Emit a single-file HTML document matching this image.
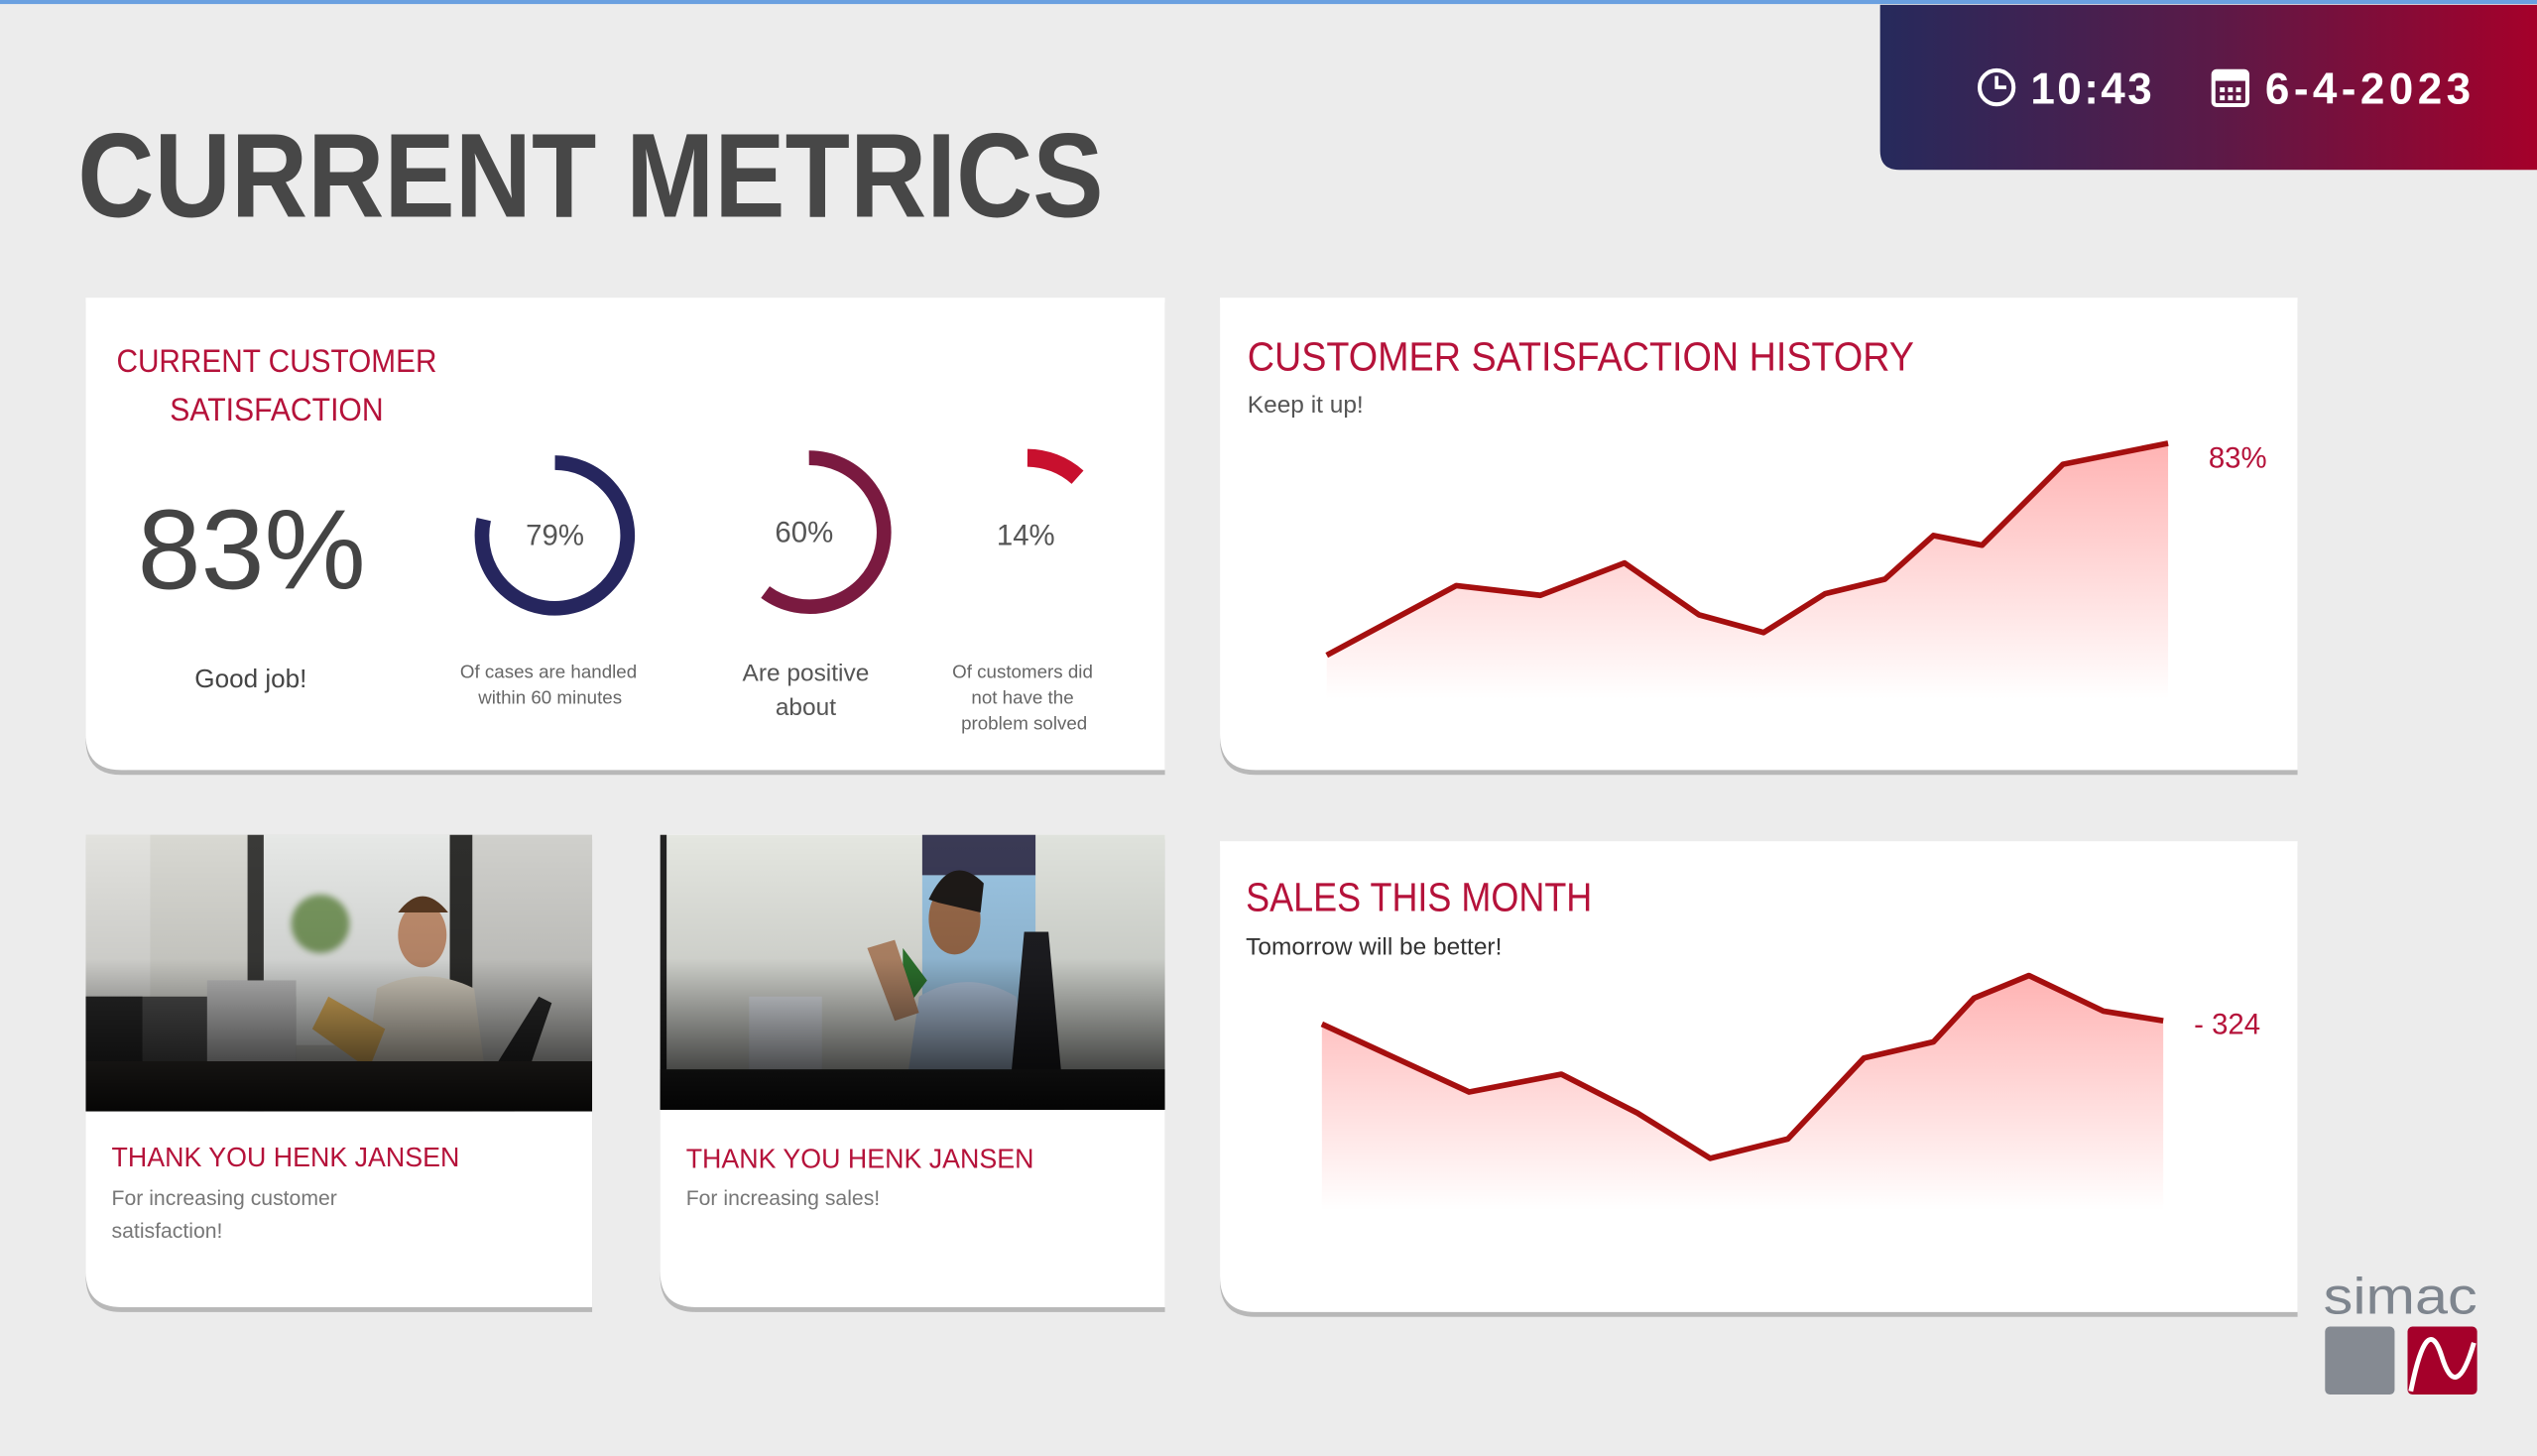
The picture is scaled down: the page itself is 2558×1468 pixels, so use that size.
<!DOCTYPE html>
<html><head><meta charset="utf-8"><style>
html,body{margin:0;padding:0;background:#ececec;overflow:hidden}
svg{display:block}
text{font-family:"Liberation Sans",sans-serif}
</style></head><body>
<svg width="2558" height="1468" viewBox="0 0 1568 900" preserveAspectRatio="none" xmlns="http://www.w3.org/2000/svg">
<defs>
<linearGradient id="hdr" x1="0" y1="0" x2="1" y2="0"><stop offset="0" stop-color="#262a5c"/><stop offset="0.5" stop-color="#5a1a48"/><stop offset="1" stop-color="#a5002a"/></linearGradient>
<linearGradient id="fillr" x1="0" y1="0" x2="0" y2="1"><stop offset="0" stop-color="#ffb3b3"/><stop offset="1" stop-color="#ffffff"/></linearGradient>
<linearGradient id="dark" x1="0" y1="0" x2="0" y2="1"><stop offset="0" stop-color="#000" stop-opacity="0"/><stop offset="0.45" stop-color="#000" stop-opacity="0.1"/><stop offset="1" stop-color="#000" stop-opacity="0.9"/></linearGradient>
<filter id="bl"><feGaussianBlur stdDeviation="2"/></filter>
</defs>
<rect width="1568" height="900" fill="#ececec"/>
<rect width="1568" height="2.5" fill="#6aa0e0"/>
<!-- header -->
<path d="M1162 3 H1568 V105 H1174 Q1162 105 1162 93 Z" fill="url(#hdr)"/>
<circle cx="1234" cy="54" r="10.5" fill="none" stroke="#fff" stroke-width="2.5"/>
<path d="M1234 47 V54 H1240" fill="none" stroke="#fff" stroke-width="2.2"/>
<text x="1255" y="64" font-size="27" font-weight="bold" fill="#fff" textLength="75">10:43</text>
<rect x="1368" y="44" width="21" height="21" rx="2" fill="none" stroke="#fff" stroke-width="2.5"/>
<rect x="1368" y="44" width="21" height="6" fill="#fff"/>
<g fill="#fff"><rect x="1372" y="54" width="3" height="3"/><rect x="1377" y="54" width="3" height="3"/><rect x="1382" y="54" width="3" height="3"/><rect x="1372" y="59" width="3" height="3"/><rect x="1377" y="59" width="3" height="3"/><rect x="1382" y="59" width="3" height="3"/></g>
<text x="1400" y="64" font-size="27" font-weight="bold" fill="#fff" textLength="127">6-4-2023</text>
<text x="48" y="134" font-size="74" font-weight="bold" fill="#474747" textLength="634" lengthAdjust="spacingAndGlyphs">CURRENT METRICS</text>

<!-- cards -->
<g>
<path d="M53 187 H720 V479 H75 Q53 479 53 457 Z" fill="#b8b8b8"/>
<path d="M53 184 H720 V476 H75 Q53 476 53 454 Z" fill="#fff"/>
<path d="M754 187 H1420 V479 H776 Q754 479 754 457 Z" fill="#b8b8b8"/>
<path d="M754 184 H1420 V476 H776 Q754 476 754 454 Z" fill="#fff"/>
<path d="M53 519 H366 V811 H75 Q53 811 53 789 Z" fill="#b8b8b8"/>
<path d="M53 516 H366 V808 H75 Q53 808 53 786 Z" fill="#fff"/>
<path d="M408 519 H720 V811 H430 Q408 811 408 789 Z" fill="#b8b8b8"/>
<path d="M408 516 H720 V808 H430 Q408 808 408 786 Z" fill="#fff"/>
<path d="M754 523 H1420 V814 H776 Q754 814 754 792 Z" fill="#b8b8b8"/>
<path d="M754 520 H1420 V811 H776 Q754 811 754 789 Z" fill="#fff"/>
</g>

<!-- card 1 -->
<text x="72" y="230" font-size="20" fill="#b5123a" textLength="198" lengthAdjust="spacingAndGlyphs">CURRENT CUSTOMER</text>
<text x="105" y="260" font-size="20" fill="#b5123a" textLength="132" lengthAdjust="spacingAndGlyphs">SATISFACTION</text>
<text x="85" y="364" font-size="70" fill="#444" textLength="141" lengthAdjust="spacingAndGlyphs">83%</text>
<text x="155" y="425" font-size="16" fill="#444" text-anchor="middle">Good job!</text>
<!-- donut 1: 79% -->
<path d="M343 286 A45 45 0 1 1 299 321" fill="none" stroke="#26265e" stroke-width="9"/>
<text x="343" y="337" font-size="18" fill="#555" text-anchor="middle">79%</text>
<!-- donut 2: 60% -->
<path d="M500 283 A46 46 0 1 1 473 366" fill="none" stroke="#7a1a40" stroke-width="9"/>
<text x="497" y="335" font-size="18" fill="#555" text-anchor="middle">60%</text>
<!-- donut 3: 14% -->
<path d="M635 283 A47 47 0 0 1 666 295" fill="none" stroke="#c8102e" stroke-width="11"/>
<text x="634" y="337" font-size="18" fill="#555" text-anchor="middle">14%</text>
<g font-size="11.5" fill="#666" text-anchor="middle">
<text x="339" y="419">Of cases are handled</text>
<text x="340" y="435">within 60 minutes</text>
<text x="632" y="419">Of customers did</text>
<text x="632" y="435">not have the</text>
<text x="633" y="451">problem solved</text>
</g>
<text x="498" y="421" font-size="15" fill="#555" text-anchor="middle">Are positive</text>
<text x="498" y="442" font-size="15" fill="#555" text-anchor="middle">about</text>

<!-- card 2 chart -->
<text x="771" y="229" font-size="25" fill="#b5123a" textLength="412" lengthAdjust="spacingAndGlyphs">CUSTOMER SATISFACTION HISTORY</text>
<text x="771" y="255" font-size="15" fill="#555">Keep it up!</text>
<path d="M820 405 L900 362 L952 368 L1004 348 L1050 380 L1090 391 L1128 367 L1165 358 L1195 331 L1225 337 L1275 287 L1340 274 V432 H820 Z" fill="url(#fillr)"/>
<path d="M820 405 L900 362 L952 368 L1004 348 L1050 380 L1090 391 L1128 367 L1165 358 L1195 331 L1225 337 L1275 287 L1340 274" fill="none" stroke="#a50f0f" stroke-width="3.5" stroke-linejoin="round"/>
<text x="1365" y="289" font-size="18" fill="#b5123a">83%</text>

<!-- sales chart -->
<text x="770" y="563" font-size="25" fill="#b5123a" textLength="214" lengthAdjust="spacingAndGlyphs">SALES THIS MONTH</text>
<text x="770" y="590" font-size="15" fill="#333">Tomorrow will be better!</text>
<path d="M817 633 L908 675 L965 664 L1012 688 L1057 716 L1105 704 L1152 654 L1195 644 L1220 617 L1254 603 L1300 625 L1337 631 V748 H817 Z" fill="url(#fillr)"/>
<path d="M817 633 L908 675 L965 664 L1012 688 L1057 716 L1105 704 L1152 654 L1195 644 L1220 617 L1254 603 L1300 625 L1337 631" fill="none" stroke="#a50f0f" stroke-width="3.5" stroke-linejoin="round"/>
<text x="1356" y="639" font-size="18" fill="#b5123a">- 324</text>

<!-- photo 1 -->
<svg x="53" y="516" width="313" height="171" viewBox="0 0 313 171">
<rect width="313" height="171" fill="#c9c9c4"/>
<rect x="0" y="0" width="40" height="171" fill="#e2e2de"/>
<rect x="40" y="0" width="60" height="120" fill="#d8d8d2"/>
<rect x="100" y="0" width="10" height="171" fill="#3a3a38"/>
<rect x="110" y="0" width="115" height="130" fill="#e6e8e6"/>
<rect x="225" y="0" width="14" height="171" fill="#2e2e2c"/>
<rect x="239" y="0" width="74" height="150" fill="#d0d0cc"/>
<circle cx="145" cy="55" r="18" fill="#7a9a60" filter="url(#bl)"/>
<rect x="0" y="100" width="130" height="50" fill="#505050"/>
<rect x="75" y="90" width="55" height="55" fill="#c8c8c8"/>
<rect x="0" y="100" width="35" height="60" fill="#2a2a2a"/>
<ellipse cx="208" cy="62" rx="15" ry="20" fill="#c49070"/>
<path d="M193 48 Q208 28 224 48 Z" fill="#5a3a22"/>
<path d="M180 95 Q210 80 240 95 L250 171 H170 Z" fill="#e3dccd"/>
<path d="M150 100 L185 120 L175 145 L140 120 Z" fill="#e8b860"/>
<path d="M255 140 L280 100 L288 104 L265 171 H250 Z" fill="#2a2a2a"/>
<rect x="0" y="140" width="313" height="31" fill="#3a3632"/>
<rect width="313" height="171" fill="url(#dark)"/>
</svg>
<!-- photo 2 -->
<svg x="408" y="516" width="312" height="170" viewBox="0 0 312 170">
<rect width="312" height="170" fill="#e4e6e0"/>
<rect x="0" y="0" width="4" height="170" fill="#222"/>
<rect x="163" y="0" width="149" height="170" fill="#dfe2dc"/>
<rect x="162" y="0" width="70" height="25" fill="#3a3a55"/>
<rect x="162" y="25" width="70" height="120" fill="#9cc6e4"/>
<rect x="55" y="100" width="45" height="60" fill="#eef2f8"/>
<path d="M150 70 L165 90 L150 110 Z" fill="#2f7a30"/>
<ellipse cx="182" cy="52" rx="16" ry="22" fill="#9a6a4a"/>
<path d="M166 40 Q180 10 200 30 L198 48 L172 42 Z" fill="#1e1a18"/>
<path d="M160 100 Q190 82 220 100 L232 170 H150 Z" fill="#b8cde6"/>
<path d="M128 70 L145 65 L160 110 L145 115 Z" fill="#b88a6a"/>
<path d="M225 60 L240 60 L250 170 H215 Z" fill="#1e1e22"/>
<rect x="0" y="145" width="312" height="25" fill="#2a2a2a"/>
<rect width="312" height="170" fill="url(#dark)"/>
</svg>
<text x="69" y="721" font-size="17" fill="#b5123a" textLength="215" lengthAdjust="spacingAndGlyphs">THANK YOU HENK JANSEN</text>
<text x="69" y="745" font-size="13" fill="#777">For increasing customer</text>
<text x="69" y="765" font-size="13" fill="#777">satisfaction!</text>
<text x="424" y="722" font-size="17" fill="#b5123a" textLength="215" lengthAdjust="spacingAndGlyphs">THANK YOU HENK JANSEN</text>
<text x="424" y="745" font-size="13" fill="#777">For increasing sales!</text>

<!-- logo -->
<text x="1436" y="812" font-size="32" fill="#7e858e" textLength="95" lengthAdjust="spacingAndGlyphs">simac</text>
<rect x="1437" y="820" width="43" height="42" rx="3" fill="#858a92"/>
<rect x="1488" y="820" width="43" height="42" rx="3" fill="#a5002a"/>
<path d="M1490 860 Q1500 810 1509 838 Q1518 868 1529 830" fill="none" stroke="#fff" stroke-width="3"/>
</svg>
</body></html>
